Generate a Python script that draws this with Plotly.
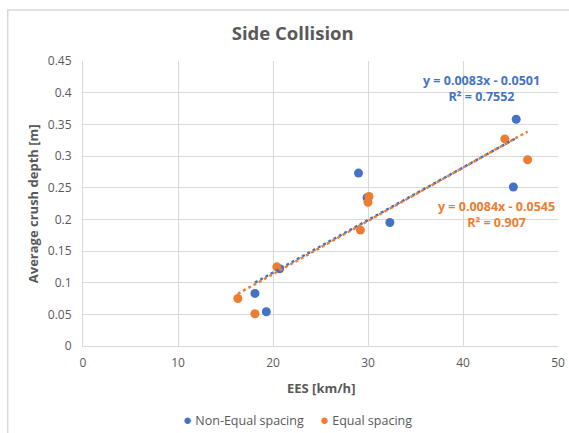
import plotly.graph_objects as go
import numpy as np

# Data
blue_x = [45.6, 29.0, 45.3, 32.3, 20.7, 18.1, 19.3, 29.9]
blue_y = [0.358, 0.273, 0.251, 0.195, 0.122, 0.083, 0.054, 0.234]
orange_x = [44.4, 46.8, 30.1, 30.0, 29.2, 20.4, 16.3, 18.1]
orange_y = [0.327, 0.294, 0.236, 0.227, 0.183, 0.125, 0.075, 0.051]

series_names = ["Non-Equal spacing", "Equal spacing"]
blue_fit = [0.0083, -0.0501]
orange_fit = [0.0084, -0.0545]
blue_eq = ["y = 0.0083x - 0.0501", "R² = 0.7552"]
orange_eq = ["y = 0.0084x - 0.0545", "R² = 0.907"]

BLUE = "#4472C4"
ORANGE = "#ED7D31"
GREY = "#595959"
FONT = "Open Sans"

# plot-area pixel geometry
L, R, T, B = 83.3, 558.3, 61.0, 346.5
W, H = R - L, B - T

def px(x):
    return (x - L) / W

def py(y):
    return (B - y) / H

fig = go.Figure()

def trend(xs, coef):
    xr = np.array([min(xs), max(xs)])
    return xr, coef[0] * xr + coef[1]

bx, by = trend(blue_x, blue_fit)
ox, oy = trend(orange_x, orange_fit)

fig.add_trace(go.Scatter(x=blue_x, y=blue_y, mode="markers", name=series_names[0],
                         marker=dict(color=BLUE, size=9)))
fig.add_trace(go.Scatter(x=orange_x, y=orange_y, mode="markers", name=series_names[1],
                         marker=dict(color=ORANGE, size=9)))
fig.add_trace(go.Scatter(x=bx, y=by, mode="lines", showlegend=False,
                         line=dict(color=BLUE, width=2.5, dash="dot")))
fig.add_trace(go.Scatter(x=ox, y=oy, mode="lines", showlegend=False,
                         line=dict(color=ORANGE, width=2.5, dash="dot")))

axis_common = dict(showgrid=True, gridcolor="#D9D9D9", gridwidth=1, zeroline=False,
                   showline=True, linecolor="#D9D9D9", linewidth=1, automargin=False,
                   tickfont=dict(family=FONT, size=12, color=GREY), ticks="")

fig.update_xaxes(range=[0, 50], dtick=10, ticklabelstandoff=6, **axis_common)
fig.update_yaxes(range=[0, 0.45], dtick=0.05, tickformat="~g", ticklabelstandoff=8, **axis_common)

legend_text = ("<span style='color:%s;font-size:15px'>●</span> %s&nbsp;&nbsp;&nbsp;&nbsp;&nbsp;"
               "<span style='color:%s;font-size:15px'>●</span> %s") % (BLUE, series_names[0], ORANGE, series_names[1])

fig.update_layout(
    width=569, height=433,
    margin=dict(l=L, r=569 - R, t=T, b=433 - B, autoexpand=False),
    paper_bgcolor="white", plot_bgcolor="white",
    font=dict(family=FONT, color=GREY),
    showlegend=False,
    title=dict(text="<b>Side Collision</b>", x=px(293), xanchor="center", xref="paper",
               y=1 - 34 / 433, yanchor="middle", font=dict(family=FONT, size=18.5, color=GREY)),
    annotations=[
        dict(text="<b>EES [km/h]</b>", xref="paper", yref="paper", x=0.5, y=py(389),
             showarrow=False, xanchor="center", yanchor="middle",
             font=dict(family=FONT, size=13, color=GREY)),
        dict(text="<b>Average crush depth [m]</b>", xref="paper", yref="paper",
             x=px(33), y=0.5, textangle=-90, showarrow=False,
             xanchor="center", yanchor="middle", font=dict(family=FONT, size=13, color=GREY)),
        dict(text="<b>" + blue_eq[0] + "<br>" + blue_eq[1] + "</b>", xref="paper", yref="paper",
             x=px(481.7), y=py(89), showarrow=False,
             xanchor="center", yanchor="middle", align="center",
             font=dict(family=FONT, size=12.5, color=BLUE)),
        dict(text="<b>" + orange_eq[0] + "<br>" + orange_eq[1] + "</b>", xref="paper", yref="paper",
             x=px(497), y=py(215), showarrow=False,
             xanchor="center", yanchor="middle", align="center",
             font=dict(family=FONT, size=12.5, color=ORANGE)),
        dict(text=legend_text, xref="paper", yref="paper", x=px(297.5), y=py(420),
             showarrow=False, xanchor="center", yanchor="middle",
             font=dict(family=FONT, size=12.5, color=GREY)),
    ],
    shapes=[
        dict(type="rect", xref="paper", yref="paper",
             x0=px(8), x1=1.2, y0=-0.4, y1=py(10),
             line=dict(color="#D9D9D9", width=1.5), fillcolor="rgba(0,0,0,0)", layer="below"),
    ],
)

fig.write_html("out.html", config={"displayModeBar": False},
               post_script="document.body.style.margin='0';document.body.style.overflow='hidden';")
